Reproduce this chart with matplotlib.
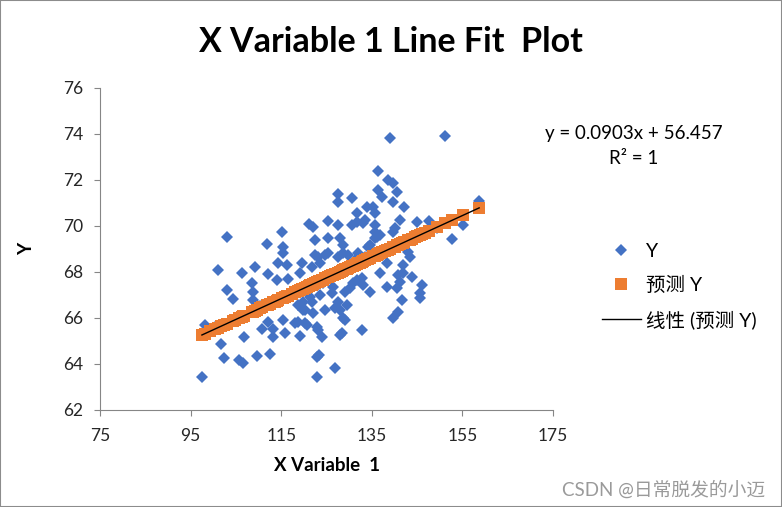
import matplotlib
matplotlib.use('Agg')
import matplotlib.pyplot as plt
from matplotlib.patches import Rectangle

plt.rcParams['font.family'] = ['Lato', 'Noto Sans CJK SC', 'DejaVu Sans']

# X Variable 1 / Y
x_vals = [97.5, 98.2, 101.0, 101.7, 102.4, 103.0, 103.0, 104.4, 105.7, 106.6,
          106.3, 106.8, 108.6, 108.8, 108.8, 109.2, 109.7, 110.8, 111.9, 112.1,
          112.1, 112.5, 113.2, 113.2, 114.1, 114.3, 115.2, 115.4, 115.4, 115.4,
          115.8, 116.3, 116.5, 118.0, 119.2, 119.2, 119.6, 119.8, 119.8, 120.3,
          121.1, 121.8, 122.0, 122.5, 122.5, 122.9, 122.9, 118.7, 120.3, 118.7,
          120.7, 121.8, 123.1, 125.3, 125.3, 125.3, 127.5, 127.5, 127.5, 128.0,
          128.6, 128.6, 130.6, 130.6, 131.7, 131.7, 133.1, 133.9, 134.2, 135.3,
          135.7, 135.7, 135.7, 135.7, 136.4, 136.4, 137.3, 136.1, 138.6, 139.7,
          140.6, 139.7, 139.0, 151.2, 142.1, 141.2, 145.0, 147.6, 155.1, 152.7,
          158.7, 140.1, 139.7, 143.0, 136.8, 133.5, 122.0, 124.7, 123.6, 127.5,
          129.7, 132.0, 134.6, 136.4, 138.4, 141.9, 143.4, 141.9, 141.2, 143.9,
          146.1, 145.6, 145.6, 138.4, 140.6, 141.7, 140.8, 139.7, 134.6, 131.7,
          133.1, 130.2, 129.1, 126.4, 124.2, 122.0, 121.4, 123.6, 127.5, 129.5,
          126.9, 124.7, 128.6, 132.8, 128.4, 122.9, 124.0, 123.3, 126.9, 131.3,
          133.5, 132.8, 130.8, 126.2, 128.0, 129.1, 123.1, 128.0, 140.8, 136.8,
          100.4, 104.8, 110.3, 113.6, 117.4, 125.8, 129.1, 132.4, 137.9, 144.5,
          146.7, 149.4, 99.3, 123.6, 140.1]
y_vals = [63.43, 65.70, 68.09, 64.87, 64.26, 69.52, 67.22, 66.83, 64.17, 64.04,
          67.96, 65.17, 67.52, 67.13, 66.78, 68.22, 64.35, 65.52, 69.22, 67.91,
          65.83, 64.43, 65.52, 65.17, 67.65, 68.39, 69.74, 69.09, 68.83, 65.91,
          65.35, 68.30, 67.70, 65.78, 67.96, 65.22, 68.39, 66.70, 66.35, 65.78,
          70.09, 66.70, 66.22, 69.39, 68.74, 64.30, 63.43, 66.57, 66.35, 65.83,
          65.70, 68.22, 68.65, 70.22, 69.48, 68.83, 71.39, 71.04, 70.04, 69.48,
          69.17, 68.83, 71.22, 70.04, 70.57, 70.17, 70.13, 70.83, 69.09, 70.83,
          70.57, 70.04, 69.74, 69.48, 72.39, 71.57, 71.26, 69.52, 72.00, 71.87,
          71.48, 71.04, 73.83, 73.91, 70.83, 70.26, 70.17, 70.22, 70.04, 69.43,
          71.09, 69.91, 69.74, 68.87, 69.61, 70.26, 69.96, 68.74, 68.39, 68.65,
          68.74, 68.83, 69.17, 68.74, 68.39, 68.30, 68.65, 67.96, 67.57, 67.78,
          67.43, 67.09, 66.87, 67.35, 67.30, 66.78, 66.26, 66.00, 67.13, 67.65,
          67.43, 67.30, 67.13, 67.35, 67.52, 67.52, 66.91, 67.00, 66.70, 66.57,
          66.43, 66.35, 66.00, 65.48, 65.35, 65.61, 65.17, 64.39, 63.83, 68.52,
          68.65, 67.74, 67.52, 67.09, 66.35, 65.91, 65.48, 65.26, 67.87, 67.96,
          65.6, 66.0, 66.5, 66.8, 67.1, 67.8, 68.2, 68.4, 69.0, 69.4,
          69.7, 69.9, 65.5, 67.7, 69.1]

# trendline shown on the chart
slope = 0.0903
intercept = 56.457
pred_y = [slope * x + intercept for x in x_vals]

x_ticks = [75, 95, 115, 135, 155, 175]
y_ticks = [62, 64, 66, 68, 70, 72, 74, 76]

fig = plt.figure(figsize=(7.82, 5.07), dpi=100)
fig.patches.append(Rectangle((0, 0), 1, 1, transform=fig.transFigure, fill=False,
                             edgecolor='#8c8c8c', linewidth=1.5))
ax = fig.add_axes([100 / 782, 1 - 410 / 507, 453 / 782, 322 / 507])

ax.plot(x_vals, y_vals, 'D', color='#4472C4', markersize=6.3, markeredgewidth=0, label='Y', zorder=2)
ax.plot(x_vals, pred_y, 's', color='#ED7D31', markersize=9.2, markeredgewidth=0, label='预测 Y', zorder=3)
xl = [min(x_vals), max(x_vals)]
ax.plot(xl, [slope * v + intercept for v in xl], color='black', linewidth=1, label='线性 (预测 Y)', zorder=4)

ax.set_xlim(75, 175)
ax.set_ylim(62, 76)
ax.set_xticks(x_ticks)
ax.set_yticks(y_ticks)
for s in ['top', 'right']:
    ax.spines[s].set_visible(False)
for s in ['left', 'bottom']:
    ax.spines[s].set_color('#868686')
    ax.spines[s].set_linewidth(0.8)
ax.tick_params(direction='out', length=4, color='#868686', labelsize=12.5, labelcolor='#262626')
ax.tick_params(axis='x', pad=9)
ax.tick_params(axis='y', pad=8)

ax.set_xlabel('X Variable  1', fontsize=13.5, fontweight='bold', labelpad=9)
ax.set_ylabel('Y', fontsize=13.5, fontweight='bold', labelpad=20)

fig.text(0.5, 1 - 42 / 507, 'X Variable 1 Line Fit  Plot', ha='center', va='center',
         fontsize=24.5, fontweight='bold')
fig.text(634 / 782, 1 - 133 / 507, 'y = 0.0903x + 56.457', ha='center', va='center', fontsize=13.5)
fig.text(634 / 782, 1 - 158 / 507, 'R² = 1', ha='center', va='center', fontsize=13.5)

fig.legend(loc='upper left', bbox_to_anchor=(592 / 782, 1 - 233 / 507), frameon=False,
           fontsize=14, handlelength=2.0, labelspacing=0.82, borderpad=0, handletextpad=0.3)

fig.text(765 / 782, 1 - 490 / 507, 'CSDN @日常脱发的小迈', ha='right', va='center',
         fontsize=13.5, color='#9a9a9a')

fig.savefig('out.png', dpi=100)
